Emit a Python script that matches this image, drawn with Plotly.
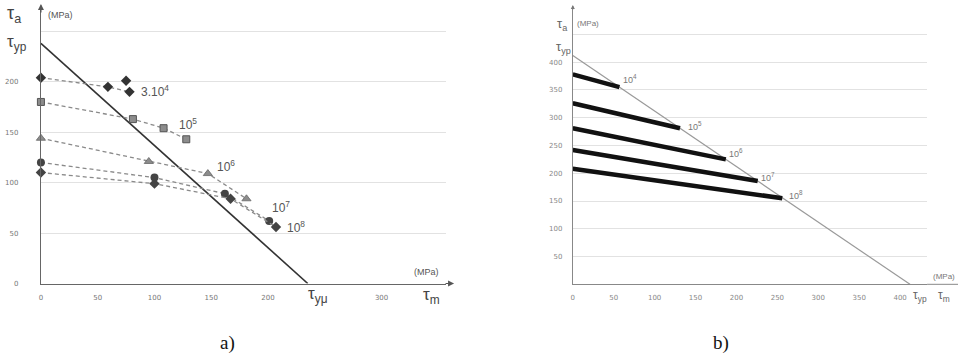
import plotly.graph_objects as go

W, H = 961, 361

# ---------------- data: chart a) ----------------
tau_yp_a = 238
tau_ymu_a = 235

s34_x = [0, 59, 78]
s34_y = [204, 195, 190]
s34_extra_x = [75]
s34_extra_y = [201]
s5_x = [0, 81, 108, 128]
s5_y = [180, 163, 154, 143]
s6_x = [0, 95, 147, 181]
s6_y = [144, 121, 109, 84]
s7_x = [0, 100, 162, 201]
s7_y = [120, 105, 89, 62]
s8_x = [0, 100, 167, 207]
s8_y = [110, 99, 84, 56]

a_labels = ["3.10<sup>4</sup>", "10<sup>5</sup>", "10<sup>6</sup>", "10<sup>7</sup>", "10<sup>8</sup>"]
a_label_x = [86, 120, 153, 202, 215]
a_label_y = [191, 158, 117, 76, 56]

a_ytick_vals = [0, 50, 100, 150, 200, 250]
a_ytick_text = ["0", "50", "100", "150", "200", ""]
a_xtick_vals = [0, 50, 100, 150, 200, 300]
a_xtick_text = ["0", "50", "100", "150", "200", "300"]

# ---------------- data: chart b) ----------------
tau_yp_b = 412
b_start_y = [378, 326, 281, 242, 208]
b_end_x = [57, 131, 187, 226, 256]
b_end_y = [355, 281, 225, 186, 155]
b_labels = ["10<sup>4</sup>", "10<sup>5</sup>", "10<sup>6</sup>", "10<sup>7</sup>", "10<sup>8</sup>"]
b_label_x = [59, 138, 189, 228, 262]
b_label_y = [369, 286, 236, 194, 161]

b_ytick_vals = [50, 100, 150, 200, 250, 300, 350, 400, 450]
b_ytick_text = ["50", "100", "150", "200", "250", "300", "350", "400", ""]
b_xtick_vals = [0, 50, 100, 150, 200, 250, 300, 350, 400]
b_xtick_text = ["0", "50", "100", "150", "200", "250", "300", "350", "400"]


def px(x):
    return x / W


def py(y):
    return 1 - y / H


fig = go.Figure()

# ---- chart a traces ----
fig.add_trace(go.Scatter(x=[0, tau_ymu_a], y=[tau_yp_a, 0], mode="lines",
                         line=dict(color="#333", width=1.6), xaxis="x", yaxis="y"))
dash_line = dict(color="#8a8a8a", width=1.3, dash="4px,3px")
fig.add_trace(go.Scatter(x=s34_x, y=s34_y, mode="lines+markers", line=dash_line,
                         marker=dict(symbol="diamond", size=8, color="#333"), xaxis="x", yaxis="y"))
fig.add_trace(go.Scatter(x=s34_extra_x, y=s34_extra_y, mode="markers",
                         marker=dict(symbol="diamond", size=8, color="#333"), xaxis="x", yaxis="y"))
fig.add_trace(go.Scatter(x=s5_x, y=s5_y, mode="lines+markers", line=dash_line,
                         marker=dict(symbol="square", size=7, color="#8c8c8c",
                                     line=dict(color="#555", width=1)), xaxis="x", yaxis="y"))
fig.add_trace(go.Scatter(x=s6_x, y=s6_y, mode="lines+markers", line=dash_line,
                         marker=dict(symbol="triangle-up", size=8, color="#8c8c8c",
                                     line=dict(color="#666", width=0.8)), xaxis="x", yaxis="y"))
fig.add_trace(go.Scatter(x=s7_x, y=s7_y, mode="lines+markers", line=dash_line,
                         marker=dict(symbol="circle", size=8, color="#444"), xaxis="x", yaxis="y"))
fig.add_trace(go.Scatter(x=s8_x, y=s8_y, mode="lines+markers", line=dash_line,
                         marker=dict(symbol="diamond", size=8, color="#444"), xaxis="x", yaxis="y"))

# ---- chart b traces ----
fig.add_trace(go.Scatter(x=[0, tau_yp_b], y=[tau_yp_b, 0], mode="lines",
                         line=dict(color="#9a9a9a", width=1.2), xaxis="x2", yaxis="y2"))
for sy, ex, ey in zip(b_start_y, b_end_x, b_end_y):
    fig.add_trace(go.Scatter(x=[0, ex], y=[sy, ey], mode="lines",
                             line=dict(color="#111", width=4.5), xaxis="x2", yaxis="y2"))

fig.update_traces(cliponaxis=False, hoverinfo="skip")

tickfont_a = dict(family="DejaVu Sans", size=7, color="#777777")
tickfont_b = dict(family="DejaVu Sans", size=7, color="#888888")

fig.update_layout(
    width=W, height=H, margin=dict(l=0, r=0, t=0, b=0),
    paper_bgcolor="white", plot_bgcolor="white", showlegend=False,
    xaxis=dict(domain=[px(39), px(445)], range=[0, (445 - 39) / 1.138],
               tickvals=a_xtick_vals, ticktext=a_xtick_text, showgrid=False,
               zeroline=False, showline=True, linecolor="#666", linewidth=1.2,
               ticks="", tickfont=tickfont_a, ticklabelstandoff=7, anchor="y"),
    yaxis=dict(domain=[py(286.7), py(10)], range=[0, (286.7 - 10) / 1.02],
               tickvals=a_ytick_vals, ticktext=a_ytick_text, showgrid=True,
               gridcolor="#e2e2e2", gridwidth=1, zeroline=False, showline=True,
               linecolor="#666", linewidth=1.2, ticks="", tickfont=tickfont_a,
               ticklabelstandoff=20, anchor="x"),
    xaxis2=dict(domain=[px(572), px(927)], range=[0, (927 - 572) / 0.82],
                tickvals=b_xtick_vals, ticktext=b_xtick_text, showgrid=False,
                zeroline=False, showline=True, linecolor="#888", linewidth=1,
                ticks="", tickfont=tickfont_b, ticklabelstandoff=6, anchor="y2"),
    yaxis2=dict(domain=[py(287.5), py(8)], range=[0, (287.5 - 8) / 0.5615],
                tickvals=b_ytick_vals, ticktext=b_ytick_text, showgrid=True,
                gridcolor="#e2e2e2", gridwidth=1, zeroline=False, showline=True,
                linecolor="#888", linewidth=1, ticks="", tickfont=tickfont_b,
                ticklabelstandoff=8, anchor="x2"),
)

ann = []
sans = "Liberation Sans"
# chart a text
for t, x, y in zip(a_labels, a_label_x, a_label_y):
    ann.append(dict(text=t, x=x, y=y, xref="x", yref="y", xanchor="left", yanchor="middle",
                    showarrow=False, font=dict(family=sans, size=12, color="#555")))
ann += [
    dict(text="τ<sub>a</sub>", x=px(3), y=py(15), xanchor="left", yanchor="middle",
         font=dict(family=sans, size=18, color="#444")),
    dict(text="(MPa)", x=px(44), y=py(15), xanchor="left", yanchor="middle",
         font=dict(family=sans, size=9, color="#555")),
    dict(text="τ<sub>yp</sub>", x=px(3), y=py(43), xanchor="left", yanchor="middle",
         font=dict(family=sans, size=17, color="#444")),
    dict(text="τ<sub>yμ</sub>", x=px(305), y=py(298), xanchor="left", yanchor="middle",
         font=dict(family=sans, size=17, color="#444")),
    dict(text="(MPa)", x=px(411), y=py(275), xanchor="left", yanchor="middle",
         font=dict(family=sans, size=9, color="#555")),
    dict(text="τ<sub>m</sub>", x=px(420), y=py(299), xanchor="left", yanchor="middle",
         font=dict(family=sans, size=17, color="#444")),
    dict(text="a)", x=px(226), y=py(347), xanchor="center", yanchor="middle",
         font=dict(family="Liberation Serif", size=19, color="#111")),
]
# chart b text
for t, x, y in zip(b_labels, b_label_x, b_label_y):
    ann.append(dict(text=t, x=x, y=y, xref="x2", yref="y2", xanchor="left", yanchor="middle",
                    showarrow=False, font=dict(family=sans, size=9, color="#777")))
ann += [
    dict(text="τ<sub>a</sub>", x=px(554), y=py(25), xanchor="left", yanchor="middle",
         font=dict(family=sans, size=13, color="#666")),
    dict(text="(MPa)", x=px(574), y=py(24), xanchor="left", yanchor="middle",
         font=dict(family=sans, size=8, color="#777")),
    dict(text="τ<sub>yp</sub>", x=px(553), y=py(48), xanchor="left", yanchor="middle",
         font=dict(family=sans, size=13, color="#666")),
    dict(text="τ<sub>yp</sub>", x=px(911), y=py(299), xanchor="left", yanchor="middle",
         font=dict(family=sans, size=12, color="#666")),
    dict(text="τ<sub>m</sub>", x=px(936), y=py(299), xanchor="left", yanchor="middle",
         font=dict(family=sans, size=12, color="#666")),
    dict(text="(MPa)", x=px(931), y=py(280), xanchor="left", yanchor="middle",
         font=dict(family=sans, size=8, color="#777")),
    dict(text="b)", x=px(720), y=py(347), xanchor="center", yanchor="middle",
         font=dict(family="Liberation Serif", size=19, color="#111")),
]
for a in ann:
    a.setdefault("xref", "paper")
    a.setdefault("yref", "paper")
    a.setdefault("showarrow", False)

# axis arrows
ann += [
    dict(text="", x=px(39), y=py(4), xref="paper", yref="paper", showarrow=True,
         ax=0, ay=10, arrowhead=2, arrowsize=1, arrowwidth=1.2, arrowcolor="#555"),
    dict(text="", x=px(453), y=py(286.7), xref="paper", yref="paper", showarrow=True,
         ax=-10, ay=0, arrowhead=2, arrowsize=1, arrowwidth=1.2, arrowcolor="#555"),
    dict(text="", x=px(572), y=py(5), xref="paper", yref="paper", showarrow=True,
         ax=0, ay=6, arrowhead=2, arrowsize=0.8, arrowwidth=1, arrowcolor="#777"),
]
fig.update_layout(annotations=ann)

fig.add_shape(type="line", xref="paper", yref="paper",
              x0=px(927), x1=px(958), y0=py(287.5), y1=py(287.5),
              line=dict(color="#888", width=1))

fig.write_html("out.html", config={"displayModeBar": False},
               post_script="document.body.style.margin='0';document.body.style.overflow='hidden';")
